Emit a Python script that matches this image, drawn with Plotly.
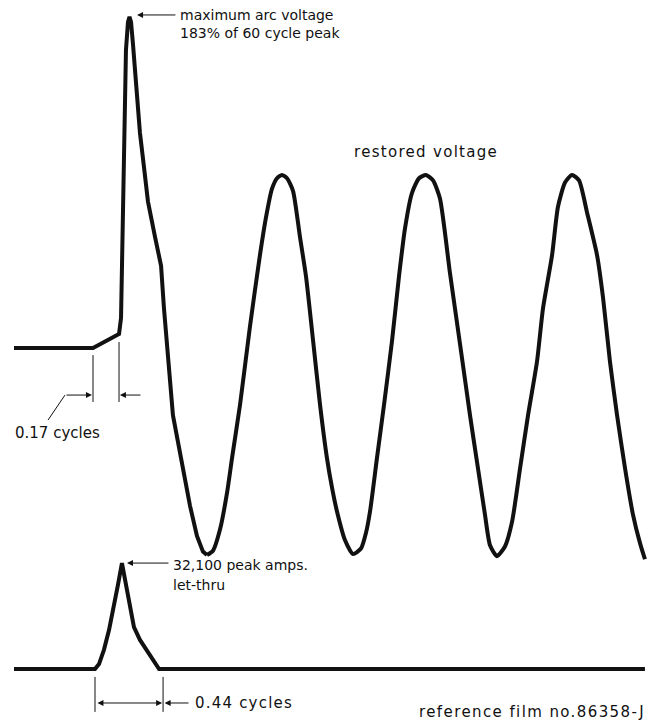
import plotly.graph_objects as go

# ---------------- data (time in cycles, voltage in per-unit of 60-cycle peak, current in kA) -------------
volt_arc_t = [-0.513, 0.0, 0.169, 0.182, 0.214, 0.227, 0.237, 0.247, 0.260, 0.279, 0.305, 0.331,
              0.357, 0.403, 0.442, 0.461, 0.481, 0.500, 0.519, 0.578, 0.630, 0.675, 0.714, 0.740]
volt_arc_v = [0.0, 0.0, 0.077, 0.166, 1.646, 1.801, 1.829, 1.801, 1.674, 1.464, 1.188, 1.000,
              0.809, 0.613, 0.454, 0.218, 0.024, -0.135, -0.371, -0.637, -0.872, -1.038, -1.125, -1.144]

volt_rest_t = [0.740, 0.779, 0.825, 0.870, 0.903, 0.955, 1.019, 1.084, 1.123, 1.162,
               1.195, 1.227, 1.260, 1.299, 1.344, 1.383, 1.429, 1.474, 1.519, 1.552,
               1.584, 1.636, 1.688, 1.740, 1.773, 1.799, 1.844, 1.890, 1.942, 1.987,
               2.026, 2.071, 2.117, 2.162, 2.208, 2.253, 2.318, 2.383, 2.448, 2.500,
               2.545, 2.578, 2.623, 2.675, 2.721, 2.773, 2.825, 2.883, 2.922, 2.981,
               3.019, 3.065, 3.110, 3.156, 3.208, 3.273, 3.312, 3.357, 3.403, 3.455,
               3.506, 3.552, 3.584]
volt_rest_v = [-1.144, -1.120, -1.002, -0.802, -0.607, -0.312, 0.118, 0.513, 0.720, 0.879,
               0.938, 0.956, 0.938, 0.867, 0.613, 0.396, 0.041, -0.312, -0.607, -0.772,
               -0.902, -1.061, -1.138, -1.108, -1.020, -0.902, -0.607, -0.312, 0.041, 0.396,
               0.661, 0.856, 0.938, 0.956, 0.926, 0.826, 0.414, 0.024, -0.371, -0.666,
               -0.919, -1.090, -1.150, -1.097, -0.961, -0.666, -0.371, -0.076, 0.218, 0.513,
               0.779, 0.914, 0.956, 0.926, 0.749, 0.513, 0.277, -0.076, -0.371, -0.666,
               -0.919, -1.078, -1.167]

current_t = [-0.513, 0.013, 0.039, 0.071, 0.104, 0.136, 0.162, 0.188, 0.214, 0.240,
             0.266, 0.305, 0.351, 0.390, 0.429, 3.584]
current_ka = [0.0, 0.0, 1.5, 5.8, 11.8, 18.8, 25.5, 32.1, 26.1, 18.8,
              12.7, 8.8, 5.5, 2.7, 0.0, 0.0]

arc_interval = [0.0, 0.169]          # 0.17 cycles
current_interval = [0.013, 0.455]    # 0.44 cycles

label_max = "maximum arc voltage"
label_max2 = "183% of 60 cycle peak"
label_restored = "restored voltage"
label_arc_time = "0.17 cycles"
label_peak_amps = "32,100 peak amps."
label_letthru = "let-thru"
label_cur_time = "0.44 cycles"
label_ref = "reference film no.86358-J"

# ---------------- figure -------------
W, H = 656, 722
FONT = "DejaVu Sans"
INK = "#111111"

fig = go.Figure()
fig.add_trace(go.Scatter(x=volt_arc_t, y=volt_arc_v, mode="lines",
                         line=dict(color=INK, width=4), yaxis="y", hoverinfo="skip"))
fig.add_trace(go.Scatter(x=volt_rest_t, y=volt_rest_v, mode="lines",
                         line=dict(color=INK, width=4, shape="spline", smoothing=0.6),
                         yaxis="y", hoverinfo="skip"))
fig.add_trace(go.Scatter(x=current_t, y=current_ka, mode="lines",
                         line=dict(color=INK, width=4), yaxis="y2", hoverinfo="skip"))

shapes = []
# 0.17-cycle dimension ticks (voltage axis)
shapes.append(dict(type="line", xref="x", yref="y", x0=arc_interval[0], x1=arc_interval[0],
                   y0=-0.039, y1=-0.298, line=dict(color=INK, width=1)))
shapes.append(dict(type="line", xref="x", yref="y", x0=arc_interval[1], x1=arc_interval[1],
                   y0=0.033, y1=-0.298, line=dict(color=INK, width=1)))
# leader to 0.17 label
shapes.append(dict(type="line", xref="x", yref="y", x0=-0.182, x1=-0.292,
                   y0=-0.260, y1=-0.398, line=dict(color=INK, width=1)))
# 0.44-cycle dimension ticks (current axis)
for tx in current_interval:
    shapes.append(dict(type="line", xref="x", yref="y2", x0=tx, x1=tx,
                       y0=-2.4, y1=-13.0, line=dict(color=INK, width=1)))

ann = []
def arrow(x, y, ax, ay, yref, side="end"):
    ann.append(dict(x=x, y=y, ax=ax, ay=ay, xref="x", yref=yref, axref="x", ayref=yref,
                    text="", showarrow=True, arrowhead=2, arrowsize=1.2, arrowwidth=1,
                    arrowcolor=INK, arrowside=side))

def label(x, y, text, yref, size=14, xanchor="left", spacing=0):
    if spacing:
        text = '<span style="letter-spacing:%spx">%s</span>' % (spacing, text)
    ann.append(dict(x=x, y=y, xref="x", yref=yref, text=text, showarrow=False,
                    xanchor=xanchor, yanchor="middle",
                    font=dict(family=FONT, size=size, color=INK)))

# maximum arc voltage
arrow(0.286, 1.840, 0.545, 1.840, "y")
label(0.552, 1.840, label_max, "y")
label(0.552, 1.740, label_max2, "y")
# restored voltage
label(1.682, 1.083, label_restored, "y", size=15, spacing=1.3)
# 0.17 cycles
arrow(-0.007, -0.260, -0.182, -0.260, "y")
arrow(0.175, -0.260, 0.318, -0.260, "y")
label(-0.519, -0.470, label_arc_time, "y", size=15)
# current peak
arrow(0.221, 32.1, 0.500, 32.1, "y2")
label(0.506, 31.5, label_peak_amps, "y2")
label(0.506, 25.5, label_letthru, "y2")
# 0.44 cycles
arrow(current_interval[1] - 0.006, -10.3, current_interval[0] + 0.006, -10.3, "y2", side="end+start")
arrow(current_interval[1] + 0.01, -10.3, 0.63, -10.3, "y2")
label(0.649, -10.3, label_cur_time, "y2", size=15, spacing=1.2)
# reference
ann.append(dict(x=647 / W, y=1 - 712 / H, xref="paper", yref="paper",
                text='<span style="letter-spacing:1.4px">%s</span>' % label_ref,
                showarrow=False, xanchor="right", yanchor="middle",
                font=dict(family=FONT, size=15, color=INK)))

fig.update_layout(
    width=W, height=H, margin=dict(l=0, r=0, t=0, b=0),
    paper_bgcolor="white", plot_bgcolor="white", showlegend=False,
    xaxis=dict(range=[-93 / 154, 563 / 154], visible=False, fixedrange=True),
    yaxis=dict(range=[(348 - 722) / 181, 348 / 181], visible=False, fixedrange=True),
    yaxis2=dict(range=[(669 - 722) / 3.3, 669 / 3.3], visible=False, overlaying="y", fixedrange=True),
    shapes=shapes, annotations=ann,
)

fig.write_html("out.html", config={"displayModeBar": False},
               post_script="document.body.style.margin='0';")
